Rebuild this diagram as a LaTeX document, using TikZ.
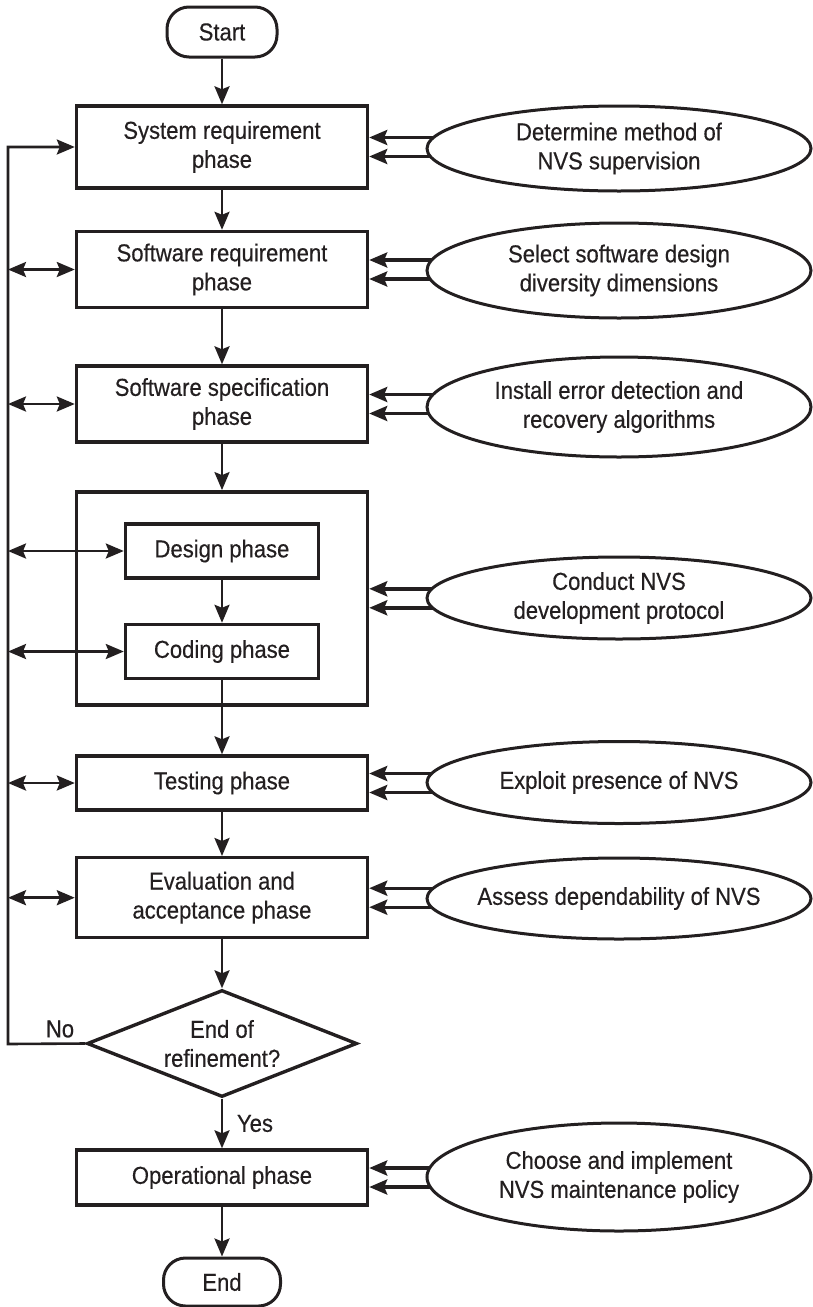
\documentclass[tikz,border=0pt]{standalone}
\usepackage{fontspec}
\setmainfont{Liberation Sans}[FakeStretch=0.9,FakeBold=0.4]
\usetikzlibrary{shapes.geometric,arrows.meta,calc}
\pgfdeclarelayer{bg}
\pgfsetlayers{bg,main}
\definecolor{ink}{HTML}{231F20}
\begin{document}
\begin{tikzpicture}[x=1pt,y=-1pt,
  font=\fontsize{24.5pt}{29pt}\selectfont,
  every node/.style={text=ink},
  tip/.style={-{Stealth[length=18pt,width=15pt,inset=3pt]}},
  both/.style={{Stealth[length=18pt,width=15pt,inset=3pt]}-{Stealth[length=18pt,width=15pt,inset=3pt]}},
  flow/.style={draw=ink,line width=2.6pt,tip},
  phasebox/.style={draw=ink,line width=3.4pt,inner sep=0pt,align=center,minimum width=291pt},
  subbox/.style={phasebox,minimum width=193pt,minimum height=54pt},
  guide/.style={ellipse,draw=ink,fill=white,line width=3pt,inner sep=0pt,minimum width=384pt,
    label={[align=center,text=ink]center:#1}},
  terminal/.style={draw=ink,line width=3pt,rounded corners=22pt,inner sep=0pt,minimum height=50pt},
  decision/.style={diamond,draw=ink,line width=3.4pt,inner sep=0pt,aspect=2.52,minimum width=270pt,minimum height=107pt,align=center},
  feed/.style={draw=ink,line width=3.4pt,tip},
  loop/.style={draw=ink,line width=2.6pt}
]
\useasboundingbox (0,0) rectangle (813,1307);

% main flow of phases
\node[terminal,minimum width=110pt] (start) at (222,32) {Start};
\node[phasebox,minimum height=82pt] (sys) at (222,147) {System requirement\\phase};
\node[phasebox,minimum height=76pt] (swr) at (222,269.5) {Software requirement\\phase};
\node[phasebox,minimum height=76pt] (sws) at (222,404) {Software specification\\phase};
\node[phasebox,minimum height=213pt] (dev) at (222,598.3) {};
\node[subbox] (des) at (222,551) {Design phase};
\node[subbox] (cod) at (222,651.5) {Coding phase};
\node[phasebox,minimum height=54pt] (tst) at (222,783) {Testing phase};
\node[phasebox,minimum height=80pt] (eva) at (222,897.7) {Evaluation and\\acceptance phase};
\node[decision] (dia) at (222,1043.5) {End of\\refinement?};
\node[phasebox,minimum height=55pt] (opr) at (222,1177.5) {Operational phase};
\node[terminal,minimum width=117pt,minimum height=48pt] (stop) at (222,1282) {End};

% guidelines attached to each phase
\node[guide={Determine method of\\NVS supervision},minimum height=85pt] (g1) at (619,148.5) {};
\node[guide={Select software design\\diversity dimensions},minimum height=95pt] (g2) at (619,270.5) {};
\node[guide={Install error detection and\\recovery algorithms},minimum height=100pt] (g3) at (619,407) {};
\node[guide={Conduct NVS\\development protocol},minimum height=82pt] (g4) at (619,598) {};
\node[guide={Exploit presence of NVS},minimum height=82pt] (g5) at (619,782.5) {};
\node[guide={Assess dependability of NVS},minimum height=81pt] (g6) at (619,898.5) {};
\node[guide={Choose and implement\\NVS maintenance policy},minimum height=108pt] (g7) at (619,1177) {};

% decision labels
\node (no) at (60,1029) {No};
\node (yes) at (255,1123.5) {Yes};

% vertical flow
\draw[flow] (start) -- (sys);
\draw[flow] (sys) -- (swr);
\draw[flow] (swr) -- (sws);
\draw[flow] (sws) -- (dev);
\draw[flow] (des) -- (cod);
\draw[flow] (cod) -- (tst);
\draw[flow] (tst) -- (eva);
\draw[flow] (eva) -- (dia.north);
\draw[flow] (dia.south) -- (opr);
\draw[flow] (opr) -- (stop);

% refinement loop on the left
\coordinate (corner) at (8,1044);
\draw[loop,tip] (dia.west) -- (corner) |- (sys.west);
\foreach \n in {swr,sws,des,cod,tst,eva}
  \draw[loop,both] (corner |- \n.west) -- (\n.west);

% paired arrows from each guideline into its phase
\begin{pgfonlayer}{bg}
\foreach \b/\g in {sys/g1,swr/g2,sws/g3,dev/g4,tst/g5,eva/g6,opr/g7}
  \foreach \d in {-9.5,9.5}
    \draw[feed] ($(\g.west |- \b.east)+(14,\d)$) -- ($(\b.east)+(0,\d)$);
\end{pgfonlayer}
\end{tikzpicture}
\end{document}
